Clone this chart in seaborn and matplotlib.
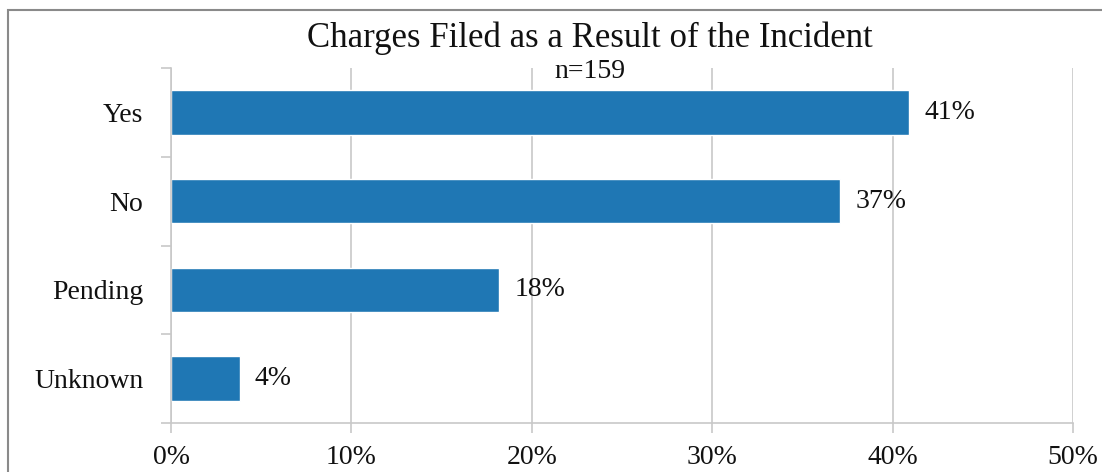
import matplotlib
matplotlib.use("Agg")
import matplotlib.pyplot as plt
from matplotlib.patches import Rectangle
from matplotlib.ticker import FixedLocator, PercentFormatter
import seaborn as sns
import pandas as pd

# Data
categories = ["Yes", "No", "Pending", "Unknown"]
percents = [40.9, 37.1, 18.2, 3.8]
value_labels = ["41%", "37%", "18%", "4%"]

df = pd.DataFrame({"answer": categories, "pct": percents})

sns.set_theme(style="white")
plt.rcParams["font.family"] = ["Liberation Serif", "DejaVu Serif"]

fig = plt.figure(figsize=(11.02, 4.72), dpi=100)
ax = fig.add_axes([171 / 1102, 1 - 423 / 472, (1073 - 171) / 1102, (423 - 68) / 472])

sns.barplot(data=df, x="pct", y="answer", orient="h", color="#1F77B4",
            width=0.5, saturation=1, ax=ax)

ax.set_xlim(0, 50)
ax.set_ylim(3.5, -0.5)
ax.set_xticks(range(0, 51, 10))
ax.xaxis.set_major_formatter(PercentFormatter(decimals=0))
ax.grid(axis="x", color="#C8C8C8", linewidth=1.2)
ax.set_axisbelow(True)

# category separators as minor ticks on the y axis
ax.yaxis.set_minor_locator(FixedLocator([-0.5, 0.5, 1.5, 2.5, 3.5]))
ax.tick_params(axis="y", which="major", length=0, pad=20, labelsize=20, labelcolor="#111111")
ax.tick_params(axis="y", which="minor", left=True, length=7, width=1.2, color="#C8C8C8")
ax.tick_params(axis="x", which="major", bottom=True, length=7, width=1.2, color="#C8C8C8",
               pad=9, labelsize=20, labelcolor="#111111")

for side in ["top", "right"]:
    ax.spines[side].set_visible(False)
for side in ["left", "bottom"]:
    ax.spines[side].set_color("#C8C8C8")
    ax.spines[side].set_linewidth(1.2)

ax.set_xlabel("")
ax.set_ylabel("")

for i, (v, lab) in enumerate(zip(percents, value_labels)):
    ax.annotate(lab, xy=(v, i), xytext=(11, 0), textcoords="offset points",
                va="center", ha="left", fontsize=20, color="#111111")

fig.text(590 / 1102, 1 - 38 / 472, "Charges Filed as a Result of the Incident",
         ha="center", va="center", fontsize=25, color="#111111")
fig.text(590 / 1102, 1 - 72 / 472, "n=159", ha="center", va="center",
         fontsize=20, color="#111111")

# outer chart border (cropped at right and bottom in the reference)
fig.patches.append(Rectangle((8 / 1102, -0.1), 1.2, 1 - 10 / 472 + 0.1,
                             transform=fig.transFigure, fill=False,
                             edgecolor="#8A8A8A", linewidth=1.5))

fig.savefig("out.png", dpi=100)
